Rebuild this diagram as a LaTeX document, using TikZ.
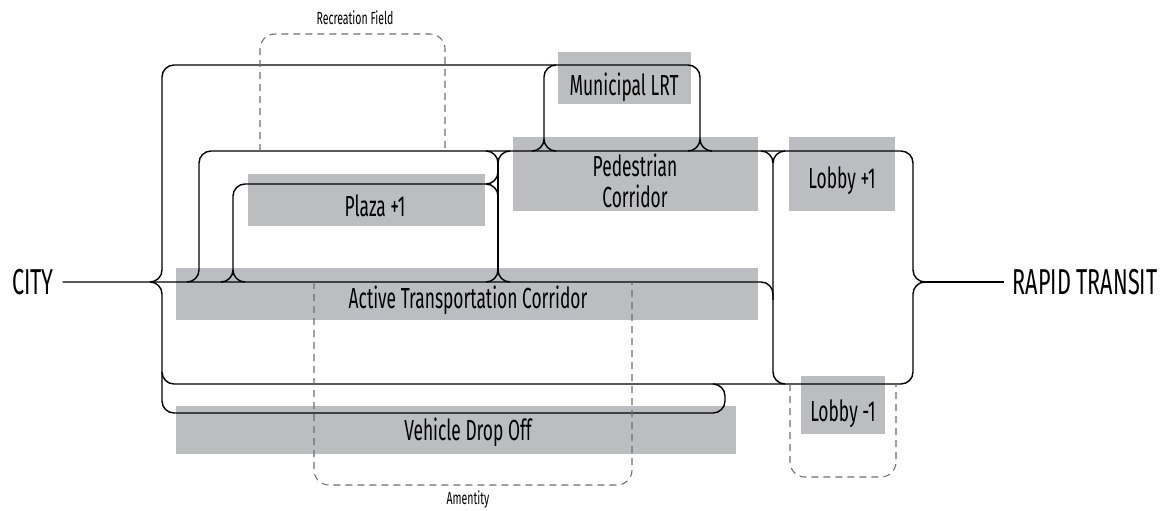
\documentclass[tikz,border=0pt]{standalone}
\usepackage{fontspec}
\setmainfont{Fira Sans}[FakeStretch=0.6]
\usepackage{xcolor}
\usetikzlibrary{positioning}

\definecolor{zonegray}{HTML}{BCBDC0}
\definecolor{dashgray}{HTML}{6E6E6E}

% arcs where a line splits off a vertical: to the side, or up/down
\newcommand{\forkside}[3]{\draw[pipe] (#1+#3,#2) -| (#1,#2-12) (#1+#3,#2) -| (#1,#2+12);}
\newcommand{\forkvert}[3]{\draw[pipe] (#1-12,#2) -| (#1,#2+#3) (#1+12,#2) -| (#1,#2+#3);}

\begin{document}
\begin{tikzpicture}[x=0.2mm, y=-0.2mm,
    zone/.style={fill=zonegray, inner sep=0pt},
    zonetext/.style={font=\fontsize{16.5}{18}\selectfont, align=center, inner sep=0pt},
    endtext/.style={font=\fontsize{20.5}{22}\selectfont, inner xsep=1.7mm, inner ysep=0pt},
    smalltext/.style={font=\fontsize{10}{12}\selectfont, inner sep=0pt},
    pipe/.style={line width=0.8pt, rounded corners=2.4mm},
    dashbox/.style={dashgray, line width=0.6pt, dash pattern=on 1.4mm off 1mm, rounded corners=3mm}]
\useasboundingbox (0,0) rectangle (1172,510);

\node[zone, minimum width=26.6mm, minimum height=10.4mm] (box_lrt) at (624.5,78) {};
\node[zone, minimum width=49mm, minimum height=14.8mm] (box_ped) at (635.5,174) {};
\node[zone, minimum width=47.4mm, minimum height=10.4mm] (box_plaza) at (366.5,200) {};
\node[zone, minimum width=21.2mm, minimum height=14.8mm] (box_lobby_up) at (842,174) {};
\node[zone, minimum width=116.4mm, minimum height=10.4mm] (box_active) at (467,294) {};
\node[zone, minimum width=16.8mm, minimum height=11.6mm] (box_lobby_dn) at (843,405) {};
\node[zone, minimum width=112mm, minimum height=9.6mm] (box_vehicle) at (456,430) {};

\node[endtext] (city) at (33,282) {CITY};
\node[endtext] (rapid) at (1085,282) {RAPID TRANSIT};

\draw[pipe] (city.east) -- (773,282) -- (773,300);
\draw[pipe] (rapid.west) -- (925,282);
\forkside{162}{282}{-12}
\forkside{913}{282}{12}

\draw[pipe] (162,270) -- (162,65) -- (700,65) -- (700,139);
\forkvert{700}{151}{-12}
\draw[pipe] (556,65) -- (544,65) -- (544,139);
\forkvert{544}{151}{-12}
\draw[pipe] (162,294) -- (162,413) -- (725,413) -- (725,384) -- (713,384);

\draw[pipe] (187,282) -| (199,151) -- (913,151) -- (913,270);
\draw[pipe] (913,294) -- (913,384) -- (162,384) -- (162,372);
\forkvert{773}{151}{12}
\draw[pipe] (773,163) -- (773,384) -- (785,384);

\forkvert{498}{151}{12}
\draw[pipe] (498,163) -- (498,270);
\forkvert{498}{282}{-12}
\forkside{498}{184}{-12}
\draw[pipe] (221,282) -| (233,184) -- (486,184);
\draw[pipe] (245,282) -| (233,270);

\draw[dashbox] (260,151) -- (260,34) -- (445,34) -- (445,151);
\draw[dashbox] (314,282) -- (314,485) -- (632,485) -- (632,282);
\draw[dashbox] (790,384) -- (790,477) -- (896,477) -- (896,384);

\node[zonetext] (label_lrt) at (624,87) {Municipal LRT};
\node[zonetext] (label_ped) at (635,181) {Pedestrian\\Corridor};
\node[zonetext] (label_plaza) at (375,206) {Plaza +1};
\node[zonetext] (label_lobby_up) at (842,181) {Lobby +1};
\node[zonetext] (label_active) at (468,300) {Active Transportation Corridor};
\node[zonetext] (label_lobby_dn) at (843,414) {Lobby -1};
\node[zonetext] (label_vehicle) at (468,432) {Vehicle Drop Off};
\node[smalltext] (label_rec) at (355,18) {Recreation Field};
\node[smalltext] (label_amenity) at (468,500) {Amentity};
\end{tikzpicture}
\end{document}
